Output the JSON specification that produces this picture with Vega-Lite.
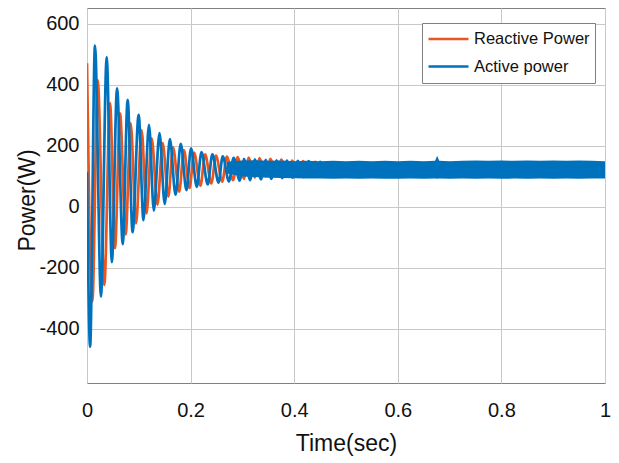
{
  "$schema": "https://vega.github.io/schema/vega-lite/v6.json",
  "autosize": {"type": "none"},
  "width": 518,
  "height": 375,
  "padding": {"left": 87, "top": 8, "right": 14, "bottom": 80},
  "background": "white",
  "config": {
    "font": "Liberation Sans, Arial, sans-serif",
    "view": {"stroke": "#808080", "strokeWidth": 1}
  },
  "datasets": {
    "lines": [
      {"series": "Reactive Power", "time": 0, "power": 471},
      {"series": "Reactive Power", "time": 0.0103, "power": -310},
      {"series": "Reactive Power", "time": 0.0206, "power": 416},
      {"series": "Reactive Power", "time": 0.0334, "power": -256},
      {"series": "Reactive Power", "time": 0.0444, "power": 340},
      {"series": "Reactive Power", "time": 0.054, "power": -135},
      {"series": "Reactive Power", "time": 0.0637, "power": 307},
      {"series": "Reactive Power", "time": 0.0746, "power": -90},
      {"series": "Reactive Power", "time": 0.0843, "power": 274},
      {"series": "Reactive Power", "time": 0.0946, "power": -54},
      {"series": "Reactive Power", "time": 0.1055, "power": 252},
      {"series": "Reactive Power", "time": 0.115, "power": -21},
      {"series": "Reactive Power", "time": 0.1248, "power": 225},
      {"series": "Reactive Power", "time": 0.136, "power": 7},
      {"series": "Reactive Power", "time": 0.146, "power": 209},
      {"series": "Reactive Power", "time": 0.157, "power": 34},
      {"series": "Reactive Power", "time": 0.166, "power": 195},
      {"series": "Reactive Power", "time": 0.178, "power": 50},
      {"series": "Reactive Power", "time": 0.187, "power": 186},
      {"series": "Reactive Power", "time": 0.198, "power": 62},
      {"series": "Reactive Power", "time": 0.2066, "power": 178},
      {"series": "Reactive Power", "time": 0.219, "power": 70},
      {"series": "Reactive Power", "time": 0.228, "power": 172},
      {"series": "Reactive Power", "time": 0.24, "power": 77},
      {"series": "Reactive Power", "time": 0.249, "power": 168},
      {"series": "Reactive Power", "time": 0.261, "power": 83},
      {"series": "Reactive Power", "time": 0.27, "power": 165},
      {"series": "Reactive Power", "time": 0.282, "power": 88},
      {"series": "Reactive Power", "time": 0.291, "power": 163},
      {"series": "Reactive Power", "time": 0.303, "power": 92},
      {"series": "Reactive Power", "time": 0.312, "power": 162},
      {"series": "Reactive Power", "time": 0.324, "power": 96},
      {"series": "Reactive Power", "time": 0.333, "power": 160},
      {"series": "Reactive Power", "time": 0.345, "power": 100},
      {"series": "Reactive Power", "time": 0.354, "power": 158},
      {"series": "Reactive Power", "time": 0.366, "power": 103},
      {"series": "Reactive Power", "time": 0.375, "power": 155},
      {"series": "Reactive Power", "time": 0.387, "power": 106},
      {"series": "Reactive Power", "time": 0.396, "power": 152},
      {"series": "Reactive Power", "time": 0.408, "power": 108},
      {"series": "Reactive Power", "time": 0.417, "power": 150},
      {"series": "Reactive Power", "time": 0.43, "power": 110},
      {"series": "Reactive Power", "time": 0.44, "power": 148},
      {"series": "Reactive Power", "time": 0.46, "power": 120},
      {"series": "Reactive Power", "time": 1.0, "power": 120},
      {"series": "Active power", "time": 0, "power": 115},
      {"series": "Active power", "time": 0.006, "power": -458},
      {"series": "Active power", "time": 0.0154, "power": 529},
      {"series": "Active power", "time": 0.027, "power": -294},
      {"series": "Active power", "time": 0.038, "power": 491},
      {"series": "Active power", "time": 0.048, "power": -181},
      {"series": "Active power", "time": 0.058, "power": 389},
      {"series": "Active power", "time": 0.069, "power": -122},
      {"series": "Active power", "time": 0.0785, "power": 351},
      {"series": "Active power", "time": 0.088, "power": -83},
      {"series": "Active power", "time": 0.0997, "power": 302},
      {"series": "Active power", "time": 0.109, "power": -43},
      {"series": "Active power", "time": 0.1197, "power": 269},
      {"series": "Active power", "time": 0.129, "power": -12},
      {"series": "Active power", "time": 0.14, "power": 242},
      {"series": "Active power", "time": 0.15, "power": 10},
      {"series": "Active power", "time": 0.16, "power": 222},
      {"series": "Active power", "time": 0.171, "power": 40},
      {"series": "Active power", "time": 0.181, "power": 207},
      {"series": "Active power", "time": 0.192, "power": 55},
      {"series": "Active power", "time": 0.2008, "power": 192},
      {"series": "Active power", "time": 0.212, "power": 66},
      {"series": "Active power", "time": 0.221, "power": 180},
      {"series": "Active power", "time": 0.233, "power": 74},
      {"series": "Active power", "time": 0.242, "power": 172},
      {"series": "Active power", "time": 0.254, "power": 80},
      {"series": "Active power", "time": 0.262, "power": 166},
      {"series": "Active power", "time": 0.274, "power": 84},
      {"series": "Active power", "time": 0.283, "power": 161},
      {"series": "Active power", "time": 0.295, "power": 86},
      {"series": "Active power", "time": 0.303, "power": 158},
      {"series": "Active power", "time": 0.315, "power": 88},
      {"series": "Active power", "time": 0.324, "power": 156},
      {"series": "Active power", "time": 0.336, "power": 90},
      {"series": "Active power", "time": 0.345, "power": 154},
      {"series": "Active power", "time": 0.356, "power": 92},
      {"series": "Active power", "time": 0.366, "power": 153},
      {"series": "Active power", "time": 0.377, "power": 94},
      {"series": "Active power", "time": 0.386, "power": 152},
      {"series": "Active power", "time": 0.397, "power": 96},
      {"series": "Active power", "time": 0.407, "power": 151},
      {"series": "Active power", "time": 0.418, "power": 98},
      {"series": "Active power", "time": 0.428, "power": 150},
      {"series": "Active power", "time": 0.44, "power": 100},
      {"series": "Active power", "time": 0.45, "power": 148},
      {"series": "Active power", "time": 0.46, "power": 120},
      {"series": "Active power", "time": 1.0, "power": 120}
    ],
    "band": [
      {"time": 0.27, "lo": 110, "hi": 148},
      {"time": 0.3, "lo": 100, "hi": 152},
      {"time": 0.325, "lo": 98, "hi": 153},
      {"time": 0.35, "lo": 96, "hi": 151},
      {"time": 0.375, "lo": 95, "hi": 152},
      {"time": 0.4, "lo": 94, "hi": 150},
      {"time": 0.425, "lo": 93, "hi": 151},
      {"time": 0.45, "lo": 93, "hi": 150},
      {"time": 0.475, "lo": 92, "hi": 151},
      {"time": 0.5, "lo": 93, "hi": 150},
      {"time": 0.525, "lo": 92, "hi": 151},
      {"time": 0.55, "lo": 93, "hi": 150},
      {"time": 0.575, "lo": 92, "hi": 151},
      {"time": 0.6, "lo": 92, "hi": 150},
      {"time": 0.625, "lo": 93, "hi": 151},
      {"time": 0.65, "lo": 92, "hi": 150},
      {"time": 0.672, "lo": 93, "hi": 151},
      {"time": 0.676, "lo": 92, "hi": 168},
      {"time": 0.68, "lo": 93, "hi": 151},
      {"time": 0.7, "lo": 92, "hi": 150},
      {"time": 0.725, "lo": 93, "hi": 151},
      {"time": 0.75, "lo": 92, "hi": 152},
      {"time": 0.775, "lo": 93, "hi": 151},
      {"time": 0.8, "lo": 92, "hi": 152},
      {"time": 0.825, "lo": 93, "hi": 151},
      {"time": 0.85, "lo": 92, "hi": 152},
      {"time": 0.875, "lo": 93, "hi": 151},
      {"time": 0.9, "lo": 92, "hi": 152},
      {"time": 0.925, "lo": 93, "hi": 151},
      {"time": 0.95, "lo": 92, "hi": 152},
      {"time": 0.975, "lo": 93, "hi": 151},
      {"time": 1.0, "lo": 93, "hi": 150}
    ]
  },
  "encoding": {
    "x": {
      "field": "time", "type": "quantitative",
      "scale": {"domain": [0, 1], "nice": false, "zero": false},
      "axis": {
        "title": "Time(sec)", "values": [0, 0.2, 0.4, 0.6, 0.8, 1], "labelExpr": "'' + datum.value",
        "labelFlush": false,
        "grid": true, "gridColor": "#c8c8c8", "gridWidth": 1,
        "domain": false, "ticks": false,
        "labelFontSize": 20, "labelColor": "#111", "labelPadding": 17,
        "titleFontSize": 23, "titleFontWeight": "normal", "titleColor": "#111", "titlePadding": 12
      }
    }
  },
  "layer": [
    {
      "data": {"name": "lines"},
      "transform": [{"filter": "datum.series === 'Reactive Power'"}],
      "mark": {"type": "line", "interpolate": "monotone", "strokeWidth": 2.7, "clip": true},
      "encoding": {
        "y": {
          "field": "power", "type": "quantitative",
          "scale": {"domain": [-577, 652], "nice": false, "zero": false},
          "axis": {
            "title": "Power(W)", "values": [-400, -200, 0, 200, 400, 600], "labelExpr": "'' + datum.value",
            "labelFlush": false,
            "grid": true, "gridColor": "#c8c8c8", "gridWidth": 1,
            "domain": false, "ticks": false,
            "labelFontSize": 20, "labelColor": "#111", "labelPadding": 8,
            "titleFontSize": 23, "titleFontWeight": "normal", "titleColor": "#111",
            "titleX": -60, "titleY": 192, "titleAngle": -90, "titleAlign": "center", "titleBaseline": "middle"
          }
        },
        "color": {
          "field": "series", "type": "nominal",
          "scale": {"domain": ["Reactive Power", "Active power"], "range": ["#E9561F", "#0072BD"]},
          "legend": {
            "title": null, "orient": "none", "legendX": 335, "legendY": 15,
            "symbolType": "stroke", "symbolSize": 1600, "symbolStrokeWidth": 2.5,
            "clipHeight": 22,
            "labelFontSize": 16.5, "labelColor": "#111", "labelOffset": 4,
            "rowPadding": 5.6, "padding": 5,
            "fillColor": "white", "strokeColor": "#808080"
          }
        }
      }
    },
    {
      "data": {"name": "band"},
      "mark": {"type": "area", "color": "#0072BD", "opacity": 1, "clip": true},
      "encoding": {
        "y": {"field": "lo", "type": "quantitative"},
        "y2": {"field": "hi"}
      }
    },
    {
      "data": {"name": "lines"},
      "transform": [{"filter": "datum.series === 'Active power'"}],
      "mark": {"type": "line", "interpolate": "monotone", "strokeWidth": 2.7, "clip": true},
      "encoding": {
        "y": {"field": "power", "type": "quantitative"},
        "color": {"field": "series", "type": "nominal"}
      }
    }
  ]
}
